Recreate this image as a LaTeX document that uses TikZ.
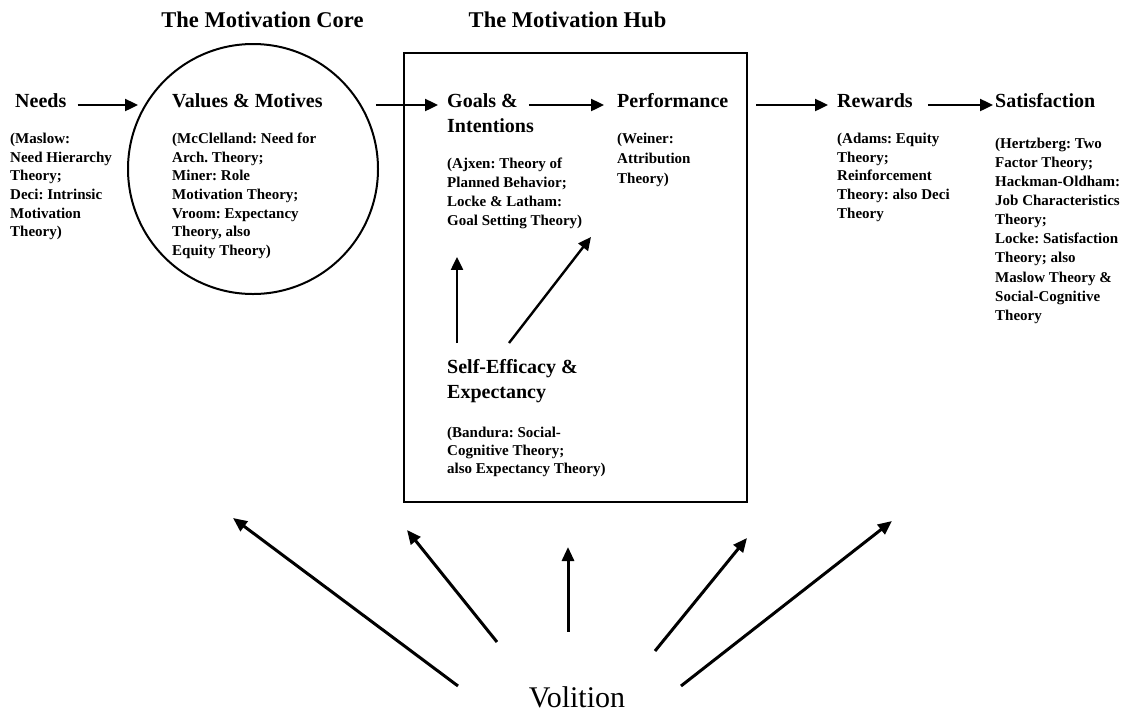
\documentclass[tikz,border=0pt]{standalone}
\usepackage{fontspec}
\setmainfont{Liberation Serif}
\usetikzlibrary{arrows.meta}
\frenchspacing

\tikzset{
  title/.style={font=\fontsize{22.5}{27}\selectfont\bfseries, inner sep=0, anchor=base},
  head/.style={font=\fontsize{20}{25.5}\selectfont\bfseries, inner sep=0, anchor=base west},
  small/.style={font=\fontsize{15}{#1}\selectfont\bfseries, inner sep=0, anchor=north west, align=left},
  small/.default=18.7,
  flow/.style={line width=2.4pt, -{Triangle[length=13pt,width=12pt]}},
  will/.style={line width=3pt, -{Triangle[length=14pt,width=12pt]}},
}

\begin{document}
\begin{tikzpicture}[x=1pt,y=-1pt]
\useasboundingbox (0,0) rectangle (1133,713);

% core and hub
\node[draw, circle, line width=2pt, minimum size=250, inner sep=0] (core) at (253,169) {};
\node[draw, line width=2.6pt, minimum width=343, minimum height=449, inner sep=0] (hub) at (575.5,277.5) {};
\node[title] (coretitle) at (262.5,27) {The Motivation Core};
\node[title] (hubtitle) at (567.5,27) {The Motivation Hub};

% headings
\node[head] (needs) at (15,107) {Needs};
\node[head] (values) at (172,107) {Values \& Motives};
\node[head] (goals) at (447,107) {Goals \&};
\node[head] (intent) at (447,132.5) {Intentions};
\node[head] (perf) at (617,107) {Performance};
\node[head] (rewards) at (837,107) {Rewards};
\node[head] (satis) at (995,107) {Satisfaction};
\node[head] (selfeff) at (447,373) {Self-Efficacy \&};
\node[head] (expect) at (447,398.5) {Expectancy};

% theories
\node[small] (needstext) at (10,132.7) {(Maslow:\\Need Hierarchy\\Theory;\\Deci: Intrinsic\\Motivation\\Theory)};
\node[small] (valuestext) at (172,132.7) {(McClelland: Need for\\Arch. Theory;\\Miner: Role\\Motivation Theory;\\Vroom: Expectancy\\Theory, also\\Equity Theory)};
\node[small=19] (goalstext) at (447,157.7) {(Ajxen: Theory of\\Planned Behavior;\\Locke \& Latham:\\Goal Setting Theory)};
\node[small=20] (perftext) at (617,132.7) {(Weiner:\\Attribution\\Theory)};
\node[small] (rewardstext) at (837,132.7) {(Adams: Equity\\Theory;\\Reinforcement\\Theory: also Deci\\Theory};
\node[small=19.1] (satistext) at (995,137.7) {(Hertzberg: Two\\Factor Theory;\\Hackman-Oldham:\\Job Characteristics\\Theory;\\Locke: Satisfaction\\Theory; also\\Maslow Theory \&\\Social-Cognitive\\Theory};
\node[small=18] (selfefftext) at (447,426.7) {(Bandura: Social-\\Cognitive Theory;\\also Expectancy Theory)};

\node[font=\fontsize{30}{36}\selectfont, inner sep=0, anchor=base] (volition) at (577,707) {Volition};

% main chain
\draw[flow] ([shift={(11,-2)}]needs.base east) -- ([shift={(-34,-2)}]values.base west);
\draw[flow] ([shift={(53,-2)}]values.base east) -- ([shift={(-9,-2)}]goals.base west);
\draw[flow] ([shift={(11,-2)}]goals.base east) -- ([shift={(-13,-2)}]perf.base west);
\draw[flow] ([shift={(28,-2)}]perf.base east) -- ([shift={(-9,-2)}]rewards.base west);
\draw[flow] ([shift={(15,-2)}]rewards.base east) -- ([shift={(-2,-2)}]satis.base west);

% inside the hub
\draw[flow] ([shift={(10,-30)}]selfeff.base west) -- ([shift={(10,28)}]goalstext.south west);
\draw[flow] ([shift={(62,-30)}]selfeff.base west) -- ([shift={(144,8)}]goalstext.south west);

% volition
\coordinate (aim1) at (233,518);
\coordinate (aim2) at (407,530);
\coordinate (aim3) at (568,547);
\coordinate (aim4) at (747,538);
\coordinate (aim5) at (892,521);
\foreach \dx/\dy/\n in {-119/0/1, -80/-44/2, -9/-54/3, 78/-35/4, 104/0/5}
  \draw[will] ([shift={(\dx,\dy)}]volition.north) -- (aim\n);
\end{tikzpicture}
\end{document}
